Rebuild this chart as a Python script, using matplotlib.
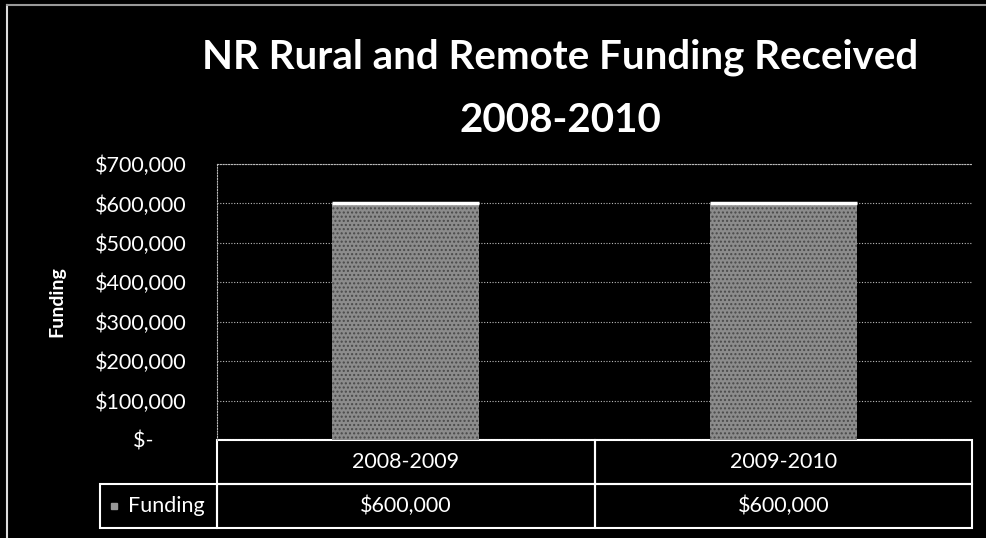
import matplotlib.pyplot as plt
from matplotlib.patches import Rectangle
from matplotlib.ticker import FuncFormatter

periods = ["2008-2009", "2009-2010"]
funding = [600000, 600000]
series_name = "Funding"
title = "NR Rural and Remote Funding Received\n2008-2010"


def money(v, pos=None):
    if v == 0:
        return "$-      "
    return "${:,.0f}".format(v)


plt.rcParams['font.family'] = ['Lato', 'DejaVu Sans']

W, H = 987, 538
fig = plt.figure(figsize=(W / 100, H / 100), dpi=100, facecolor='black')

# outer frame (left + top)
fig.add_artist(plt.Line2D([7 / W, 7 / W], [0, 1 - 5 / H], color='#dddddd', lw=1.5))
fig.add_artist(plt.Line2D([7 / W, 1], [1 - 5 / H, 1 - 5 / H], color='#999999', lw=1.5))

left, right, top, zero = 217, 972, 164, 440
ax = fig.add_axes([left / W, 1 - zero / H, (right - left) / W, (zero - top) / H])
ax.set_facecolor('black')

x = list(range(len(periods)))
bars = ax.bar(x, funding, width=0.39, color='#8c8c8c', edgecolor='#4a4a4a',
              hatch='....', linewidth=0, zorder=3)
for b in bars:
    ax.hlines(b.get_height(), b.get_x(), b.get_x() + b.get_width(),
              color='white', lw=2.5, zorder=4)

ax.set_xlim(-0.5, len(periods) - 0.5)
ax.set_ylim(0, 700000)
ax.set_yticks(range(0, 700001, 100000))
ax.yaxis.set_major_formatter(FuncFormatter(money))
ax.tick_params(axis='y', length=0, pad=22, colors='white', labelsize=15.5)
ax.set_xticks([])
ax.grid(axis='y', color='#bbbbbb', linestyle=(0, (1, 1.5)), lw=0.8, zorder=1)
for s in ['right', 'bottom']:
    ax.spines[s].set_visible(False)
ax.spines['left'].set_color('#bbbbbb')
ax.spines['left'].set_linestyle((0, (1, 1.5)))
ax.spines['top'].set_color('#bbbbbb')
ax.spines['top'].set_linestyle((0, (1, 1.5)))

ax.set_ylabel("Funding", color='white', fontsize=14, fontweight='bold', labelpad=21)

# data table below the plot
ph = zero - top
row_h = 44 / ph
tr = ax.transAxes
col_w = 1 / len(periods)
for i, (p, v) in enumerate(zip(periods, funding)):
    x0 = i * col_w
    for r, txt in enumerate([p, money(v)]):
        y0 = -(r + 1) * row_h
        ax.add_patch(Rectangle((x0, y0), col_w, row_h, transform=tr, fill=False,
                               edgecolor='white', lw=1.5, clip_on=False))
        ax.text(x0 + col_w / 2, y0 + row_h / 2, txt.strip(), transform=tr, color='white',
                fontsize=15.5, ha='center', va='center')

lab_x = (100 - left) / (right - left)
ax.add_patch(Rectangle((lab_x, -2 * row_h), -lab_x, row_h, transform=tr, fill=False,
                       edgecolor='white', lw=1.5, clip_on=False))
ax.add_patch(Rectangle((lab_x + 0.014, -1.5 * row_h - 0.012), 0.009, 0.024, transform=tr,
                       color='#999999', clip_on=False))
ax.text(lab_x + 0.037, -1.5 * row_h, series_name, transform=tr, color='white',
        fontsize=15.5, ha='left', va='center')

fig.text(560 / W, 1 - 89 / H, title, color='white', fontsize=29, fontweight='bold',
         ha='center', va='center', linespacing=1.85)

fig.savefig('out.png', dpi=100, facecolor='black')
